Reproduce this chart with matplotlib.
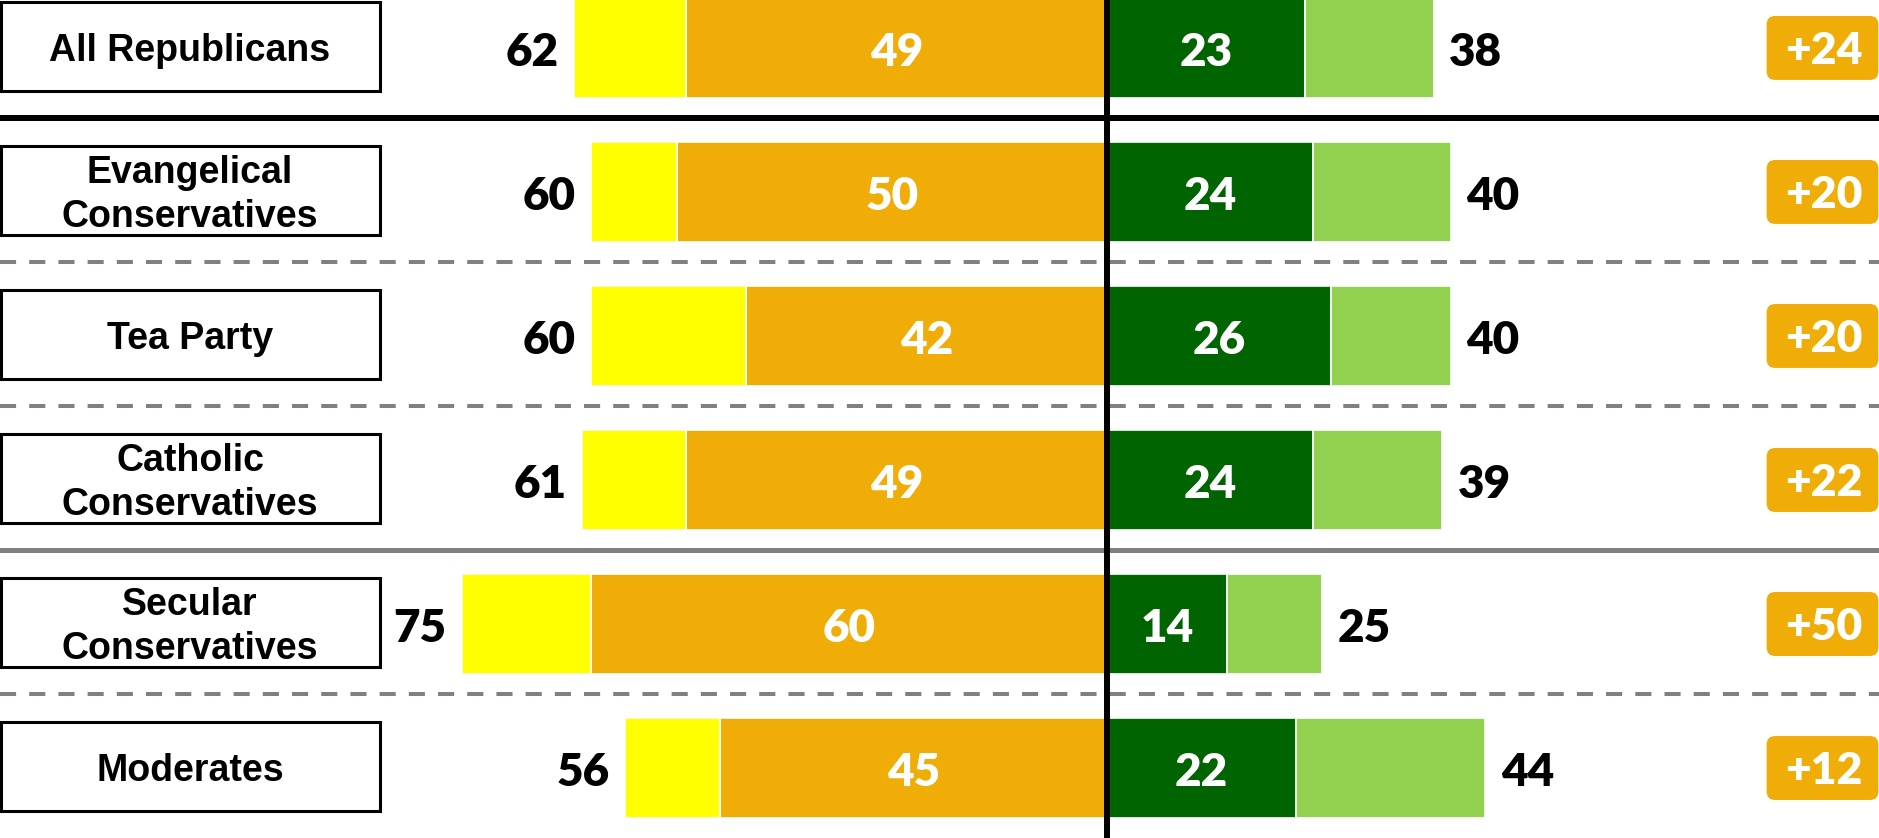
import matplotlib
matplotlib.use("Agg")
import matplotlib.pyplot as plt
from matplotlib.patches import Rectangle, FancyBboxPatch

# Data
groups = ["All Republicans", "Evangelical\nConservatives", "Tea Party",
          "Catholic\nConservatives", "Secular\nConservatives", "Moderates"]
left_total = [62, 60, 60, 61, 75, 56]
left_strong = [49, 50, 42, 49, 60, 45]
right_strong = [23, 24, 26, 24, 14, 22]
right_total = [38, 40, 40, 39, 25, 44]
margin = ["+24", "+20", "+20", "+22", "+50", "+12"]

YELLOW = "#FFFF00"
ORANGE = "#F0AD08"
DKGREEN = "#006400"
LTGREEN = "#92D050"
GRAY = "#808080"

NUM_FONT = "Lato"
NUM_W = "heavy"
LAB_FONT = "Liberation Sans"

fig = plt.figure(figsize=(18.79, 8.38), dpi=100)
ax = fig.add_axes([0, 0, 1, 1])
XL, XR = -128.72, 89.77
ax.set_xlim(XL, XR)
ax.set_ylim(5.486, -0.333)
ax.axis("off")

y = list(range(len(groups)))
h = 0.694
left_weak = [t - s for t, s in zip(left_total, left_strong)]
right_weak = [t - s for t, s in zip(right_total, right_strong)]

ax.barh(y, [-v for v in left_strong], left=0, height=h, color=ORANGE,
        edgecolor="white", linewidth=1.2, zorder=2)
ax.barh(y, [-v for v in left_weak], left=[-v for v in left_strong], height=h,
        color=YELLOW, edgecolor="white", linewidth=1.2, zorder=2)
ax.barh(y, right_strong, left=0, height=h, color=DKGREEN,
        edgecolor="white", linewidth=1.2, zorder=2)
ax.barh(y, right_weak, left=right_strong, height=h, color=LTGREEN,
        edgecolor="white", linewidth=1.2, zorder=2)

# separators
ax.axhline(0.486, color="black", lw=4.3, zorder=3)
ax.axhline(3.486, color=GRAY, lw=3.6, zorder=3)
for yy in (1.486, 2.486, 4.486):
    ax.axhline(yy, color=GRAY, lw=2.9, linestyle=(0, (4.0, 3.25)), zorder=3)
ax.axvline(0, color="black", lw=4.3, zorder=4)

for i in y:
    # group label box
    ax.add_patch(Rectangle((XL + 0.1, i - 0.318), 44.1, 0.616, facecolor="white",
                           edgecolor="black", lw=2.2, zorder=5))
    ax.text(XL + 22.1, i + 0.02, groups[i], ha="center", va="center",
            fontsize=27, fontweight="bold", family=LAB_FONT,
            linespacing=1.3, zorder=6)

    ty = i + 0.03
    ax.text(-left_total[i] - 1.8, ty, str(left_total[i]), ha="right",
            va="center", fontsize=33, fontweight=NUM_W, family=NUM_FONT)
    ax.text(right_total[i] + 1.8, ty, str(right_total[i]), ha="left",
            va="center", fontsize=33, fontweight=NUM_W, family=NUM_FONT)
    ax.text(-left_strong[i] / 2, ty, str(left_strong[i]), ha="center",
            va="center", fontsize=33, fontweight=NUM_W, family=NUM_FONT,
            color="white", zorder=5)
    ax.text(right_strong[i] / 2, ty, str(right_strong[i]), ha="center",
            va="center", fontsize=33, fontweight=NUM_W, family=NUM_FONT,
            color="white", zorder=5)

    # margin badge
    px_x, px_y = 8.6, 144.0
    ax.add_patch(FancyBboxPatch((76.7, i - 0.222), 13.0, 0.444,
                                boxstyle="round,pad=0,rounding_size=1.0",
                                mutation_aspect=px_x / px_y,
                                facecolor=ORANGE, edgecolor="none", zorder=5,
                                clip_on=False))
    ax.text(83.4, i + 0.02, margin[i], ha="center", va="center", fontsize=32,
            fontweight=NUM_W, family=NUM_FONT, color="white", zorder=6)

fig.savefig("out.png", dpi=100)
